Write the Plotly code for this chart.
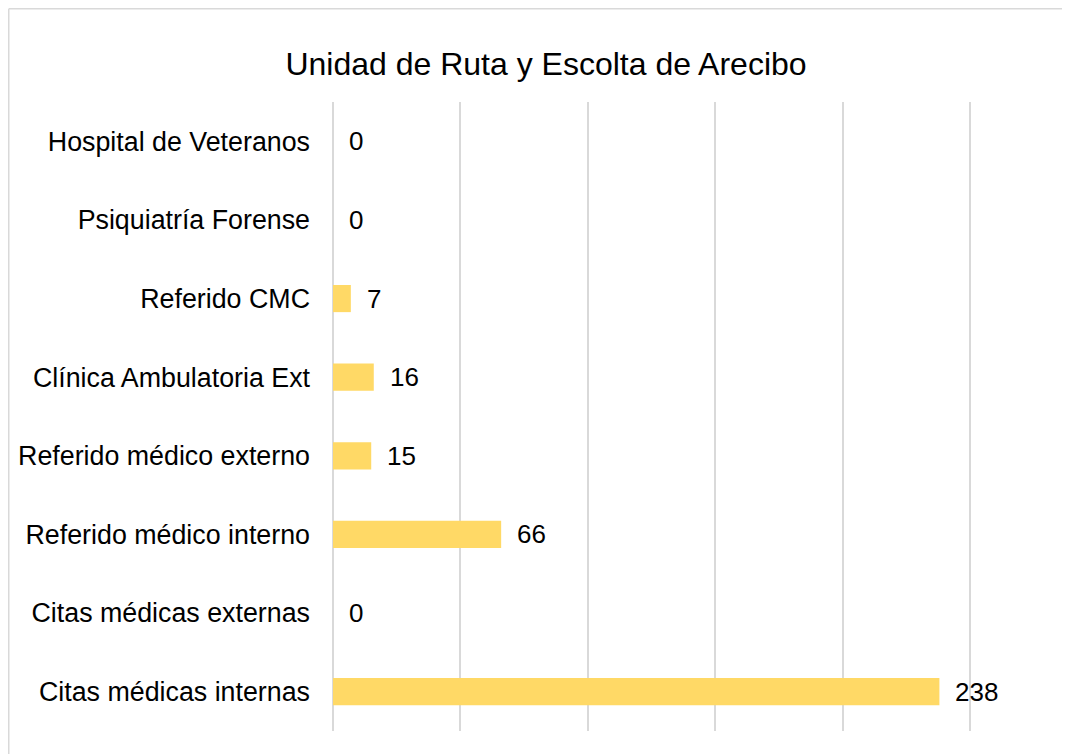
import plotly.graph_objects as go

categories = ["Citas médicas internas", "Citas médicas externas", "Referido médico interno",
              "Referido médico externo", "Clínica Ambulatoria Ext", "Referido CMC",
              "Psiquiatría Forense", "Hospital de Veteranos"]
values = [238, 0, 66, 15, 16, 7, 0, 0]
title_text = "Unidad de Ruta y Escolta de Arecibo"

# page has an 8px body margin; figure coordinates are compensated
W, H = 1070, 754
L, R, T, B = 325, 107, 94, 31
pw, ph = W - L - R, H - T - B
FONT = "Liberation Sans, Arial"

fig = go.Figure()
fig.add_trace(go.Bar(
    y=categories, x=values, orientation="h",
    marker=dict(color="#FFD966", line=dict(width=0)),
    width=0.345, hoverinfo="x+y",
))
for c, v in zip(categories, values):
    fig.add_annotation(x=v, y=c, text=str(v), showarrow=False, xanchor="left",
                       xshift=14, font=dict(family=FONT, size=26, color="#000000"))

# outer chart border (light gray), cropped on right/bottom
bx = (0.75 - L) / pw
by = 1 + (T - 0.75) / ph
fig.add_shape(type="line", xref="paper", yref="paper", x0=bx, x1=3, y0=by, y1=by,
              line=dict(color="#D9D9D9", width=1.5))
fig.add_shape(type="line", xref="paper", yref="paper", x0=bx, x1=bx, y0=by, y1=-3,
              line=dict(color="#D9D9D9", width=1.5))

fig.update_layout(
    width=W, height=H,
    margin=dict(l=L, r=R, t=T, b=B, autoexpand=False),
    paper_bgcolor="white", plot_bgcolor="white",
    showlegend=False,
    bargap=0.655,
    font=dict(family=FONT, size=26, color="#000000"),
    title=dict(text=title_text, x=538 / W, xref="container", xanchor="center",
               y=1 - 56 / H, yref="container", yanchor="middle",
               font=dict(family=FONT, size=32, color="#000000")),
    xaxis=dict(range=[0, 250.4], dtick=50, tick0=0, showgrid=True, gridcolor="#D9D9D9", gridwidth=1.5,
               zeroline=True, zerolinecolor="#D9D9D9", zerolinewidth=1.5, automargin=False,
               showticklabels=False, showline=False, fixedrange=True),
    yaxis=dict(categoryorder="array", categoryarray=categories, showgrid=False, automargin=False,
               showline=False, zeroline=False, ticks="", ticklabelstandoff=22,
               tickfont=dict(family=FONT, size=26.8, color="#000000")),
)

fig.write_html("out.html")
